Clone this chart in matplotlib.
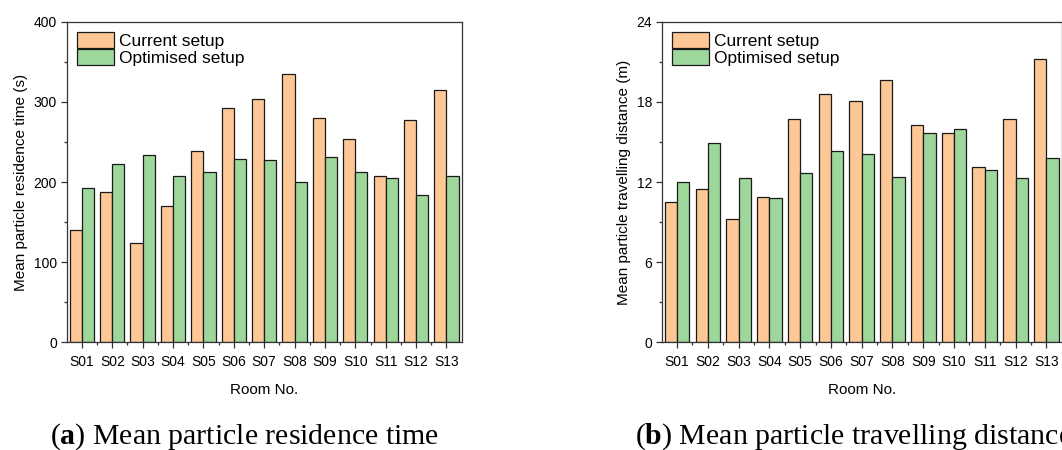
import numpy as np
import matplotlib
matplotlib.use("Agg")
import matplotlib.pyplot as plt
from matplotlib.ticker import MultipleLocator

plt.rcParams["font.family"] = ["Liberation Sans", "DejaVu Sans"]
plt.rcParams["mathtext.fontset"] = "custom"
plt.rcParams["mathtext.rm"] = "Liberation Serif"
plt.rcParams["mathtext.bf"] = "Liberation Serif:bold"

rooms = ["S01", "S02", "S03", "S04", "S05", "S06", "S07",
         "S08", "S09", "S10", "S11", "S12", "S13"]

# residence time (s)
time_current = [140, 188, 124, 170, 239, 292, 304, 335, 280, 254, 207, 277, 315]
time_optimised = [192, 223, 234, 208, 213, 229, 227, 200, 231, 212, 205, 184, 208]

# travelling distance (m)
dist_current = [10.5, 11.5, 9.2, 10.9, 16.7, 18.6, 18.1, 19.6, 16.3, 15.7, 13.1, 16.7, 21.2]
dist_optimised = [12.0, 14.9, 12.3, 10.8, 12.7, 14.3, 14.1, 12.4, 15.7, 16.0, 12.9, 12.3, 13.8]

c_cur = "#FDC896"
c_opt = "#9DD79B"
edge = "#1a1a1a"

fig = plt.figure(figsize=(10.62, 4.5), dpi=100)
ax1 = fig.add_axes([0.0628, 0.2393, 0.3719, 0.7125])
ax2 = fig.add_axes([0.6231, 0.2393, 0.3766, 0.7125])

x = np.arange(1, len(rooms) + 1)
w = 0.4


def draw(ax, cur, opt, ymax, major, minor, ylabel):
    ax.bar(x - w / 2, cur, w, color=c_cur, edgecolor=edge, linewidth=0.9,
           label="Current setup")
    ax.bar(x + w / 2, opt, w, color=c_opt, edgecolor=edge, linewidth=0.9,
           label="Optimised setup")
    ax.set_xlim(0.5, len(rooms) + 0.5)
    ax.set_ylim(0, ymax)
    ax.set_xticks(x)
    ax.set_xticklabels(rooms)
    ax.set_xticks(x[:-1] + 0.5, minor=True)
    ax.yaxis.set_major_locator(MultipleLocator(major))
    ax.yaxis.set_minor_locator(MultipleLocator(minor))
    ax.tick_params(axis="both", which="major", direction="out", length=4,
                   width=0.9, labelsize=10, color="#333333", pad=3)
    ax.tick_params(axis="both", which="minor", direction="out", length=2.5,
                   width=0.9, color="#333333")
    ax.tick_params(axis="x", which="major", pad=5)
    for s in ax.spines.values():
        s.set_linewidth(0.9)
        s.set_color("#333333")
    ax.set_xlabel("Room No.", fontsize=11, labelpad=10)
    ax.set_ylabel(ylabel, fontsize=11, labelpad=4)
    ax.legend(loc="upper left", frameon=False, fontsize=12.5,
              handlelength=2.1, handleheight=1.05, labelspacing=0.0,
              handletextpad=0.3, borderaxespad=0.4, borderpad=0.2)


draw(ax1, time_current, time_optimised, 400, 100, 50,
     "Mean particle residence time (s)")
draw(ax2, dist_current, dist_optimised, 24, 6, 3,
     "Mean particle travelling distance (m)")

fig.text(0.047, 0.0135, r"($\mathbf{a}$) Mean particle residence time",
         fontsize=21.5, family="Liberation Serif", va="baseline", ha="left")
fig.text(0.598, 0.0135, r"($\mathbf{b}$) Mean particle travelling distance",
         fontsize=21.5, family="Liberation Serif", va="baseline", ha="left")

fig.savefig("out.png", dpi=100)
